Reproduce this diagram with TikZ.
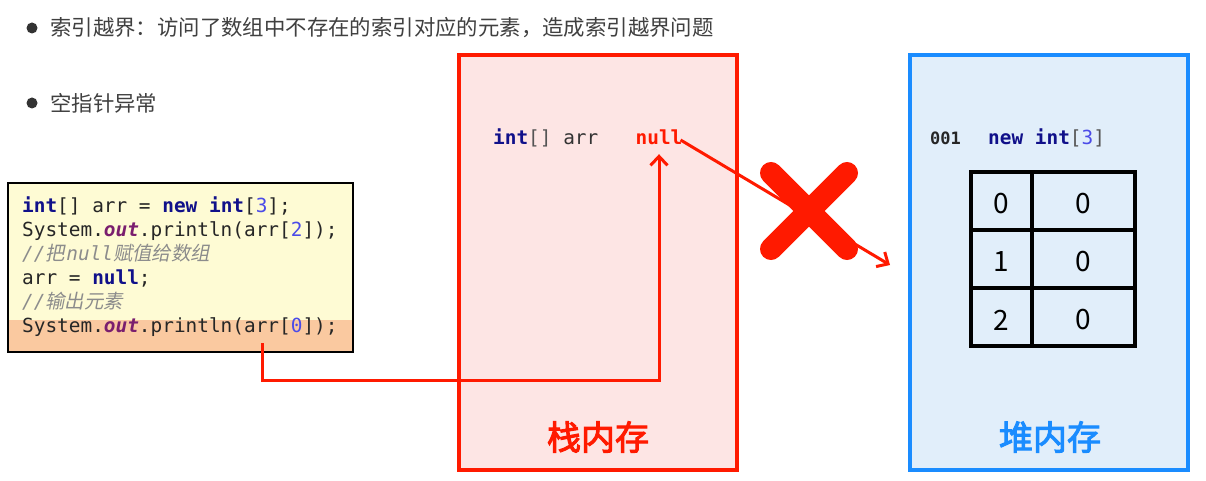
\documentclass[tikz,border=0pt]{standalone}
\usepackage{fontspec}
\setmainfont{Liberation Sans}
\setmonofont{DejaVu Sans Mono}
\newfontfamily\cjk{Noto Sans CJK SC}
\newfontfamily\cjkit{Noto Sans CJK SC}[FakeSlant=0.2]
\newfontfamily\cjkb{Noto Sans CJK SC}[FakeBold=3]
\usetikzlibrary{arrows.meta}
\definecolor{txtgray}{HTML}{404040}
\definecolor{stackfill}{HTML}{FDE5E4}
\definecolor{stackred}{HTML}{FF1A00}
\definecolor{heapfill}{HTML}{E1EEFA}
\definecolor{heapblue}{HTML}{1A8CFF}
\definecolor{codebg}{HTML}{FEFBD4}
\definecolor{codehl}{HTML}{FAC9A0}
\definecolor{kw}{HTML}{10108A}
\definecolor{fld}{HTML}{7A1E6E}
\definecolor{num}{HTML}{4B4BE8}
\definecolor{cmt}{HTML}{8C8C8C}
\definecolor{brk}{HTML}{555555}
\newcommand{\kwd}[1]{\textcolor{kw}{\textbf{#1}}}
\newcommand{\fldo}[1]{\textcolor{fld}{\textbf{\textit{#1}}}}
\newcommand{\numb}[1]{\textcolor{num}{#1}}
\tikzset{
  bodytext/.style={font=\cjk\fontsize{21.4}{24}\selectfont, text=txtgray, inner sep=0pt},
  codeline/.style={font=\ttfamily\fontsize{19.4}{23}\selectfont, text=black!85, inner sep=0pt, anchor=base west, text height=14pt, text depth=4pt},
  memlabel/.style={font=\cjkb\fontsize{34}{38}\selectfont, inner sep=0pt},
  cell/.style={font=\cjk\fontsize{28}{30}\selectfont, inner sep=0pt},
  redarrow/.style={draw=stackred, line width=3pt, -{Straight Barb[length=9pt,width=17pt,line width=3pt]}},
  cross/.style={draw=stackred, line width=22pt, line cap=round},
  tbl/.style={draw=black, line width=4pt}
}
\begin{document}
\begin{tikzpicture}[x=1pt,y=-1pt]
\useasboundingbox[fill=white] (0,0) rectangle (1206,481);
% bullets
\fill[black!80] (32,28) circle (5.5);
\node[bodytext, anchor=west] (b1) at (50,28) {索引越界：访问了数组中不存在的索引对应的元素，造成索引越界问题};
\fill[black!80] (32,103) circle (5.5);
\node[bodytext, anchor=west] (b2) at (50,103) {空指针异常};
% stack
\draw[stackred, fill=stackfill, line width=4pt] (459,55) rectangle (737,470);
\node[memlabel, text=stackred] (stacklbl) at (598,437) {栈内存};
% heap
\draw[heapblue, fill=heapfill, line width=4pt] (910,55) rectangle (1188,470);
\node[memlabel, text=heapblue] (heaplbl) at (1050,437) {堆内存};
% code box
\fill[codebg] (8,183) rectangle (353,352);
\fill[codehl] (8,320) rectangle (353,352);
\draw[black, line width=2pt] (8,183) rectangle (353,352);
\node[codeline] (c1) at (22,212) {\kwd{int}[] arr = \kwd{new} \kwd{int}[\numb{3}];};
\node[codeline] (c2) at (22,236) {System.\fldo{out}.println(arr[\numb{2}]);};
\node[codeline, text=cmt] (c3) at (22,260) {\textit{//}{\cjkit 把}\kern1.5pt\textit{null}{\cjkit 赋值给数组}};
\node[codeline] (c4) at (22,284) {arr = \kwd{null};};
\node[codeline, text=cmt] (c5) at (22,308) {\textit{//}{\cjkit 输出元素}};
\node[codeline] (c6) at (22,332) {System.\fldo{out}.println(arr[\numb{0}]);};
% stack contents
\node[codeline, text=black!80] (decl) at (493,145) {\kwd{int}\textcolor{brk}{[]} arr};
\node[codeline, text=stackred, anchor=base] (null) at (659,145) {\textbf{null}};
% heap contents
\node[codeline, text=black!85, font=\ttfamily\bfseries\fontsize{17}{20}\selectfont] (addr) at (930,145) {001};
\node[codeline] (newarr) at (988,145) {\kwd{new} \kwd{int}\textcolor{brk}{[}\numb{3}\textcolor{brk}{]}};
% table
\draw[tbl] (971,172) rectangle (1135,346);
\draw[tbl] (1032,172) -- (1032,346);
\draw[tbl] (971,230) -- (1135,230);
\draw[tbl] (971,288) -- (1135,288);
\node[cell] (i0) at (1001,204) {0};
\node[cell] (v0) at (1083,204) {0};
\node[cell] (i1) at (1001,262) {1};
\node[cell] (v1) at (1083,262) {0};
\node[cell] (i2) at (1001,320) {2};
\node[cell] (v2) at (1083,320) {0};
% connectors
\coordinate (src) at (262,343);
\coordinate (heapend) at (890,265);
\draw[redarrow] (src) -- (262,380) -| ([yshift=-5pt]null.south);
\draw[redarrow] ([xshift=-2pt]null.east) -- (heapend);
% cross
\draw[cross] (771,173) -- (847,249);
\draw[cross] (847,173) -- (771,249);
\end{tikzpicture}
\end{document}
